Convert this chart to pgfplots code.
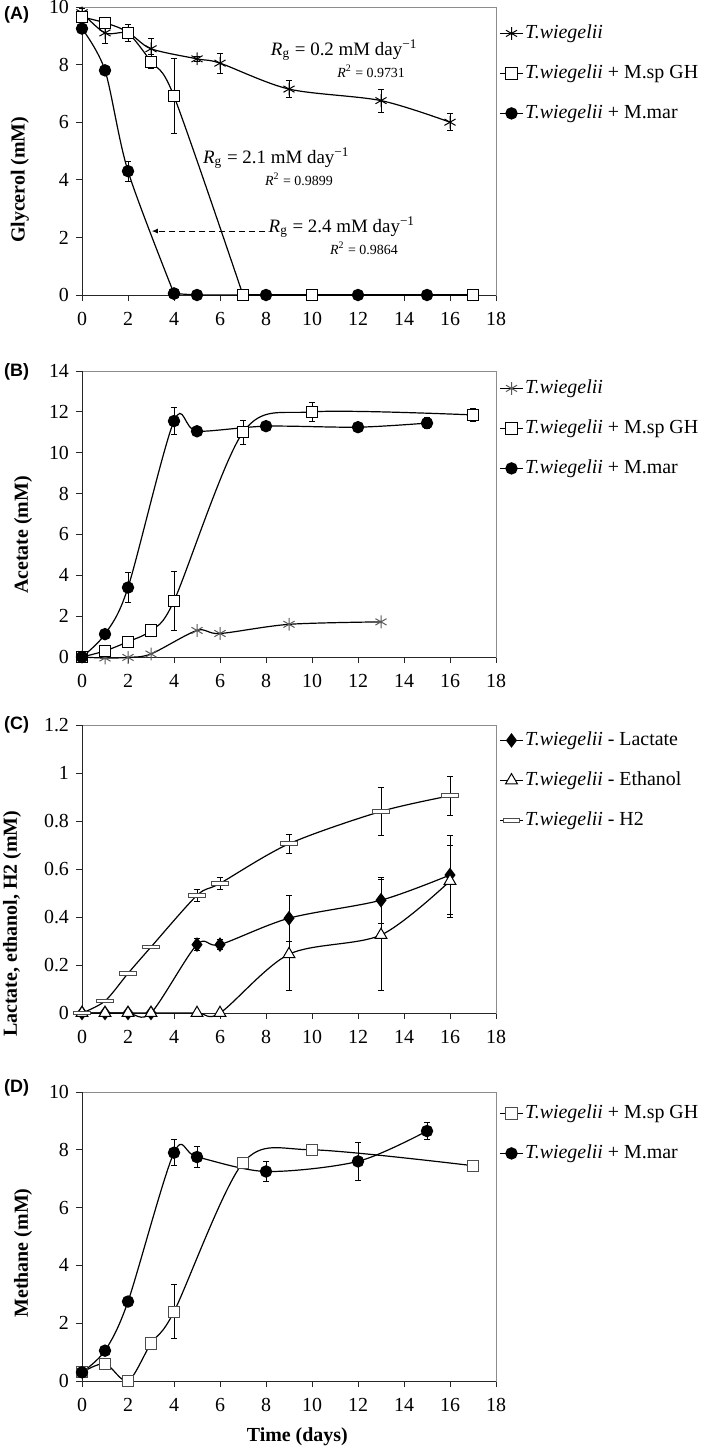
\documentclass[border=0pt]{standalone}
\usepackage{fontspec}
\setmainfont{Liberation Serif}
\setsansfont{Liberation Sans}
\usepackage{pgfplots}
\pgfplotsset{compat=1.18}
\usetikzlibrary{arrows.meta}

\pgfplotsset{
 panel/.style={
  scale only axis, width=207bp, height=144bp, anchor=south west,
  xmin=0, xmax=18, xtick={0,2,...,18}, clip=false,
  axis line style={black!45, line width=0.5pt},
  tick style={black!85, line width=0.5pt},
  tick align=outside, major tick length=3bp, tick pos=left,
  /pgf/number format/assume math mode=true,
  tick label style={font=\fontsize{10}{12}\selectfont},
  xticklabel style={yshift=-2.3bp},
  label style={font=\fontsize{10}{12}\selectfont\bfseries},
  legend style={at={(1,1)}, anchor=north west, xshift=1.5bp, draw=none, fill=none,
     font=\fontsize{10}{12}\selectfont, inner sep=0pt, row sep=9bp,
     nodes={inner sep=0.8bp, text depth=2.2bp, text height=7.2bp}},
  legend cell align=left,
  legend image code/.code={\draw[mark repeat=2,mark phase=2] plot coordinates {(0bp,0bp) (5.75bp,0bp) (11.5bp,0bp)};},
 },
 ln/.style={black, line width=0.6bp, smooth, tension=0.5},
 sharpln/.style={black, line width=0.6bp, sharp plot},
 eb/.style={error bars/y dir=both, error bars/y explicit,
   error bars/error bar style={black, line width=0.45bp, solid},
   error bars/error mark options={rotate=90, black, mark size=1.6bp, line width=0.45bp}},
 circ/.style={mark=*, mark size=2.8bp, mark options={fill=black, draw=black, solid}},
 sq/.style={mark=square*, mark size=2.8bp, mark options={fill=white, draw=black, solid, line width=0.5bp}},
 sqg/.style={mark=square*, mark size=2.8bp, mark options={fill=white, draw=black!70, solid, line width=0.5bp}},
 ast/.style={mark=asterisk, mark size=3.2bp, mark options={solid, line width=0.5bp}},
 astg/.style={mark=asterisk, mark size=3.2bp, mark options={solid, line width=0.5bp, draw=black!65}},
 dia/.style={mark=diamond*, mark size=3.2bp, mark options={fill=black, draw=black, solid}},
 tri/.style={mark=triangle*, mark size=3.4bp, mark options={fill=white, draw=black, solid, line width=0.5bp}},
 rect/.style={mark=square*, mark size=2.8bp, mark options={fill=white, draw=black!70, solid, xscale=1.5, yscale=0.35, line width=0.5bp}},
}

\begin{document}
\begin{tikzpicture}
\useasboundingbox (0,0) rectangle (354.5bp,-724bp);

% ---------------- (A) ----------------
\begin{axis}[panel, at={(41bp,-147.5bp)}, ymin=0, ymax=10, ytick={0,2,...,10},
  ylabel={Glycerol (mM)},
  ylabel style={at={(axis description cs:-0.1498,0.40)}, anchor=center},
  legend style={yshift=-7.5bp}]
\draw[black!85, line width=0.5pt] (rel axis cs:0,1) -- (rel axis cs:0,0) -- (rel axis cs:1,0);
\addplot[ln, ast, eb] coordinates {
 (0,9.8) +- (0,0.15)
 (1,9.1) +- (0,0.35)
 (2,9.1) +- (0,0.3)
 (3,8.55) +- (0,0.35)
 (5,8.2) +- (0,0.1)
 (6,8.05) +- (0,0.35)
 (9,7.15) +- (0,0.3)
 (13,6.75) +- (0,0.4)
 (16,6.0) +- (0,0.3)
};
\addlegendentry{\textit{T.wiegelii}}
\addplot[ln, sq, eb] coordinates {
 (0,9.65) +- (0,0.1)
 (1,9.45) +- (0,0.1)
 (2,9.1) +- (0,0.1)
 (3,8.1) +- (0,0.25)
 (4,6.9) +- (0,1.3)
 (7,0) +- (0,0)
};
\addlegendentry{\textit{T.wiegelii} + M.sp GH}
\addplot[sharpln, sq, forget plot] coordinates {
 (7,0) (10,0) (17,0)
};
\addplot[ln, circ, eb] coordinates {
 (0,9.25) +- (0,0.1)
 (1,7.8) +- (0,0.1)
 (2,4.3) +- (0,0.35)
 (4,0.05) +- (0,0)
};
\addlegendentry{\textit{T.wiegelii} + M.mar}
\addplot[sharpln, circ, forget plot] coordinates {
 (4,0.05) (5,0) (8,0) (12,0) (15,0)
};
\node[font=\fontsize{9.5}{11}\selectfont] at (axis cs:11.4,8.5) {\textit{R}\textsubscript{g} = 0.2 mM day\textsuperscript{−1}};
\node[font=\fontsize{7}{8}\selectfont] at (axis cs:12.57,7.78) {\textit{R}\textsuperscript{2} = 0.9731};
\node[font=\fontsize{9.5}{11}\selectfont] at (axis cs:8.45,4.76) {\textit{R}\textsubscript{g} = 2.1 mM day\textsuperscript{−1}};
\node[font=\fontsize{7}{8}\selectfont] at (axis cs:9.43,4.03) {\textit{R}\textsuperscript{2} = 0.9899};
\node[font=\fontsize{9.5}{11}\selectfont] at (axis cs:11.3,2.36) {\textit{R}\textsubscript{g} = 2.4 mM day\textsuperscript{−1}};
\node[font=\fontsize{7}{8}\selectfont] at (axis cs:12.26,1.63) {\textit{R}\textsuperscript{2} = 0.9864};
\draw[black, line width=0.4bp, densely dashed, -{Latex[length=3bp,width=2.5bp]}] (axis cs:7.96,2.22) -- (axis cs:3.04,2.22);
\end{axis}

% ---------------- (B) ----------------
\begin{axis}[panel, at={(41bp,-328.5bp)}, height=143bp, ymin=0, ymax=14, ytick={0,2,...,14},
  ylabel={Acetate (mM)},
  ylabel style={at={(axis description cs:-0.1425,0.427)}, anchor=center},
  legend style={yshift=-3bp}]
\draw[black!85, line width=0.5pt] (rel axis cs:0,1) -- (rel axis cs:0,0) -- (rel axis cs:1,0);
\addplot[ln, astg] coordinates {
 (0,0) (1,-0.05) (2,-0.02) (3,0.15) (5,1.3) (6,1.15) (9,1.6) (13,1.72)
};
\addlegendentry{\textit{T.wiegelii}}
\addplot[ln, sq, eb] coordinates {
 (0,0) +- (0,0)
 (1,0.3) +- (0,0)
 (2,0.75) +- (0,0)
 (3,1.3) +- (0,0)
 (4,2.75) +- (0,1.45)
 (7,11.0) +- (0,0.6)
 (10,12.0) +- (0,0.45)
 (17,11.85) +- (0,0.3)
};
\addlegendentry{\textit{T.wiegelii} + M.sp GH}
\addplot[ln, circ, eb] coordinates {
 (0,0) +- (0,0)
 (1,1.12) +- (0,0)
 (2,3.4) +- (0,0.75)
 (4,11.55) +- (0,0.65)
 (5,11.05) +- (0,0.1)
 (8,11.3) +- (0,0.1)
 (12,11.25) +- (0,0.1)
 (15,11.45) +- (0,0.28)
};
\addlegendentry{\textit{T.wiegelii} + M.mar}
\end{axis}

% ---------------- (C) ----------------
\begin{axis}[panel, at={(41bp,-506.5bp)}, ymin=0, ymax=1.2, ytick={0,0.2,0.4,0.6,0.8,1,1.2},
  ylabel={Lactate, ethanol, H2 (mM)},
  ylabel style={at={(axis description cs:-0.169,0.31)}, anchor=center},
  legend style={yshift=-2bp}]
\draw[black!85, line width=0.5pt] (rel axis cs:0,1) -- (rel axis cs:0,0) -- (rel axis cs:1,0);
\addplot[ln, dia, eb] coordinates {
 (0,0) +- (0,0)
 (1,0) +- (0,0)
 (2,0) +- (0,0)
 (3,0) +- (0,0)
 (5,0.285) +- (0,0.025)
 (6,0.285) +- (0,0.02)
 (9,0.395) +- (0,0.095)
 (13,0.47) +- (0,0.095)
 (16,0.575) +- (0,0.165)
};
\addlegendentry{\textit{T.wiegelii} - Lactate}
\addplot[ln, tri, eb] coordinates {
 (0,0) +- (0,0)
 (1,0) +- (0,0)
 (2,0) +- (0,0)
 (3,0) +- (0,0)
 (5,0) +- (0,0)
 (6,0) +- (0,0)
 (9,0.245) +- (0,0.15)
 (13,0.325) +- (0,0.23)
 (16,0.55) +- (0,0.15)
};
\addlegendentry{\textit{T.wiegelii} - Ethanol}
\addplot[ln, rect, eb] coordinates {
 (0,0) +- (0,0)
 (1,0.05) +- (0,0)
 (2,0.165) +- (0,0)
 (3,0.275) +- (0,0)
 (5,0.49) +- (0,0.025)
 (6,0.54) +- (0,0.025)
 (9,0.705) +- (0,0.04)
 (13,0.84) +- (0,0.1)
 (16,0.905) +- (0,0.08)
};
\addlegendentry{\textit{T.wiegelii} - H2}
\end{axis}

% ---------------- (D) ----------------
\begin{axis}[panel, at={(41bp,-690.5bp)}, height=144.5bp, ymin=0, ymax=10, ytick={0,2,...,10},
  ylabel={Methane (mM)}, xlabel={Time (days)},
  ylabel style={at={(axis description cs:-0.1425,0.443)}, anchor=center},
  xlabel style={at={(axis description cs:0.52,0)}, yshift=-28bp, anchor=center},
  legend style={yshift=-5bp}]
\draw[black!85, line width=0.5pt] (rel axis cs:0,1) -- (rel axis cs:0,0) -- (rel axis cs:1,0);
\addplot[ln, sqg, eb] coordinates {
 (0,0.3) +- (0,0)
 (1,0.6) +- (0,0)
 (2,0) +- (0,0)
 (3,1.3) +- (0,0)
 (4,2.4) +- (0,0.93)
 (7,7.55) +- (0,0)
 (10,8.0) +- (0,0)
 (17,7.45) +- (0,0.12)
};
\addlegendentry{\textit{T.wiegelii} + M.sp GH}
\addplot[ln, circ, eb] coordinates {
 (0,0.3) +- (0,0)
 (1,1.05) +- (0,0)
 (2,2.75) +- (0,0.1)
 (4,7.9) +- (0,0.45)
 (5,7.75) +- (0,0.35)
 (8,7.25) +- (0,0.35)
 (12,7.6) +- (0,0.65)
 (15,8.65) +- (0,0.3)
};
\addlegendentry{\textit{T.wiegelii} + M.mar}
\end{axis}

\node[font=\sffamily\bfseries\fontsize{9}{10}\selectfont] at (8.3bp,-7.5bp) {(A)};
\node[font=\sffamily\bfseries\fontsize{9}{10}\selectfont] at (8.3bp,-186bp) {(B)};
\node[font=\sffamily\bfseries\fontsize{9}{10}\selectfont] at (8.3bp,-362.5bp) {(C)};
\node[font=\sffamily\bfseries\fontsize{9}{10}\selectfont] at (8.3bp,-544bp) {(D)};
\end{tikzpicture}
\end{document}
